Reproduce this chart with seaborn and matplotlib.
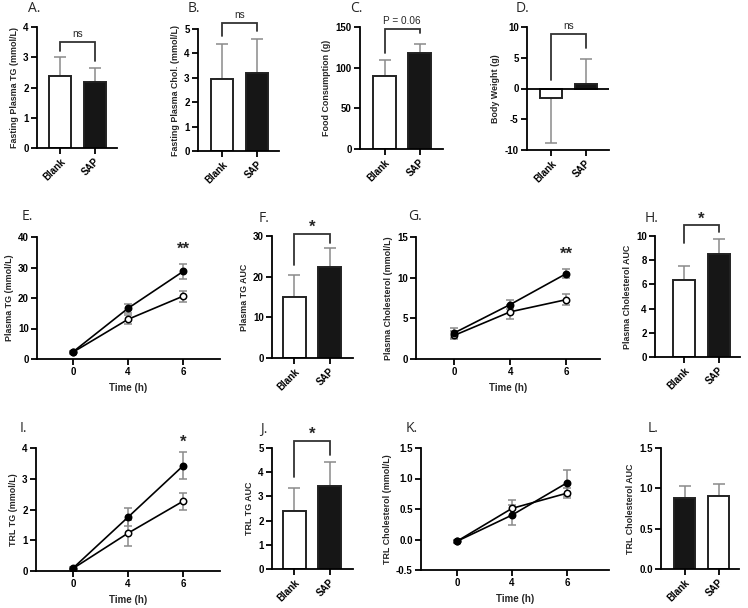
import numpy as np
import pandas as pd
import matplotlib
matplotlib.use("Agg")
import matplotlib.pyplot as plt
import seaborn as sns

sns.set_style("ticks")
plt.rcParams['font.family'] = ['Liberation Sans', 'DejaVu Sans']
plt.rcParams['axes.linewidth'] = 1.3
plt.rcParams['xtick.major.width'] = 1.3
plt.rcParams['ytick.major.width'] = 1.3
plt.rcParams['xtick.major.size'] = 4
plt.rcParams['ytick.major.size'] = 4
plt.rcParams['xtick.color'] = 'black'
plt.rcParams['ytick.color'] = 'black'
plt.rcParams['axes.edgecolor'] = 'black'

# ---------------- data ----------------
groups = ["Blank", "SAP"]
times = ["0", "4", "6"]

# bar panels: means and error (one-sided)
A_mean = [2.38, 2.17];   A_err = [0.63, 0.48]
B_mean = [2.96, 3.18];   B_err = [1.42, 1.42]
C_mean = [89.8, 117.5];  C_err = [19.7, 11.3]
D_mean = [-1.5, 0.68];   D_err = [7.4, 4.1]
F_mean = [14.9, 22.4];   F_err = [5.4, 4.6]
H_mean = [6.36, 8.5];    H_err = [1.2, 1.22]
J_mean = [2.38, 3.45];   J_err = [0.96, 0.98]
L_mean = [0.885, 0.905]; L_err = [0.145, 0.145]

# time-course panels
E_blank = [2.2, 13.0, 20.6];   E_blank_err = [0.4, 1.5, 1.8]
E_sap = [2.3, 16.6, 28.7];     E_sap_err = [0.4, 1.5, 2.6]
G_blank = [2.9, 5.8, 7.3];     G_blank_err = [0.5, 0.85, 0.7]
G_sap = [3.2, 6.7, 10.5];      G_sap_err = [0.6, 0.6, 0.55]
I_blank = [0.08, 1.23, 2.27];  I_blank_err = [0.03, 0.42, 0.28]
I_sap = [0.09, 1.75, 3.42];    I_sap_err = [0.03, 0.30, 0.44]
K_blank = [-0.03, 0.51, 0.76]; K_blank_err = [0.02, 0.13, 0.08]
K_sap = [-0.03, 0.40, 0.93];   K_sap_err = [0.02, 0.17, 0.21]

W, H = 748, 608
fig = plt.figure(figsize=(W / 100, H / 100), dpi=100)

def add_ax(l, r, t, b):
    return fig.add_axes([l / W, 1 - b / H, (r - l) / W, (b - t) / H])

TICKFONT = dict(fontsize=7, fontweight='bold')
YLABFONT = dict(fontsize=6.4, fontweight='bold')
XLABFONT = dict(fontsize=7, fontweight='bold')
ERRC = '#8a8a8a'
BLACK = '#161616'

def style(ax, ylabel, yticks, ylim, fmt=None):
    sns.despine(ax=ax)
    ax.set_ylim(*ylim)
    ax.set_yticks(yticks)
    if fmt:
        ax.set_yticklabels([fmt.format(v) for v in yticks], **TICKFONT)
    else:
        ax.set_yticklabels([str(v) for v in yticks], **TICKFONT)
    ax.set_ylabel(ylabel, labelpad=3, **YLABFONT)
    ax.tick_params(axis='both', pad=2)

def letter(x, y, s):
    fig.text(x / W, 1 - y / H, s, fontsize=10, family='Open Sans', va='center', ha='left')

def bracket(ax, y, legs, text, tsize=7.2, bold=False):
    ax.plot([0, 0, 1, 1], [legs[0], y, y, legs[1]], color='#333333', lw=1.3,
            clip_on=False, solid_joinstyle='miter')
    ax.annotate(text, xy=(0.5, y), xytext=(0, 2 if not bold else -1), textcoords='offset points',
                ha='center', va='bottom', fontsize=tsize,
                fontweight='bold' if bold else 'normal', annotation_clip=False)

def barpanel(ax, means, errs, colors, ylabel, yticks, ylim, xlim, fmt=None):
    sns.barplot(x=groups, y=means, hue=groups, palette=colors, legend=False,
                edgecolor='#222222', linewidth=1.4, width=0.64, ax=ax, zorder=2)
    for i, (m, e) in enumerate(zip(means, errs)):
        if m >= 0:
            yerr = [[0], [e]]
        else:
            yerr = [[e], [0]]
        ax.errorbar([i], [m], yerr=yerr, fmt='none', ecolor=ERRC, elinewidth=1.1,
                    capsize=4.5, capthick=1.1, zorder=1)
    ax.set_xlim(*xlim)
    style(ax, ylabel, yticks, ylim, fmt)
    ax.set_xticks([0, 1])
    ax.set_xticklabels(groups, rotation=45, ha='right', rotation_mode='anchor', **TICKFONT)
    ax.set_xlabel('')

def linepanel(ax, blank, blank_err, sap, sap_err, ylabel, yticks, ylim, xlim, fmt=None):
    df_b = pd.DataFrame({'time': times, 'val': blank})
    df_s = pd.DataFrame({'time': times, 'val': sap})
    x = np.arange(len(times))
    ax.errorbar(x, blank, yerr=blank_err, fmt='none', ecolor=ERRC, elinewidth=1.1,
                capsize=3, capthick=1.1, zorder=1)
    ax.errorbar(x, sap, yerr=sap_err, fmt='none', ecolor=ERRC, elinewidth=1.1,
                capsize=3, capthick=1.1, zorder=1)
    sns.pointplot(data=df_b, x='time', y='val', order=times, color='black',
                  markers='o', markersize=4.6, markerfacecolor='white', markeredgewidth=1.1,
                  linewidth=1.2, errorbar=None, ax=ax)
    sns.pointplot(data=df_s, x='time', y='val', order=times, color='black',
                  markers='o', markersize=4.6, markeredgewidth=1.1,
                  linewidth=1.2, errorbar=None, ax=ax)
    ax.set_xlim(*xlim)
    style(ax, ylabel, yticks, ylim, fmt)
    ax.set_xticks(x)
    ax.set_xticklabels(times, **TICKFONT)
    ax.set_xlabel('Time (h)', labelpad=4, **XLABFONT)

WB = ['white', BLACK]

# ---- row 1 ----
axA = add_ax(37, 117, 27, 148)
barpanel(axA, A_mean, A_err, WB, 'Fasting Plasma TG (mmol/L)', [0, 1, 2, 3, 4], (0, 4), (-0.67, 1.65))
bracket(axA, 3.5, [3.2, 2.87], 'ns')
letter(28, 9, 'A.')

axB = add_ax(198, 279, 29, 151)
barpanel(axB, B_mean, B_err, WB, 'Fasting Plasma Chol. (mmol/L)', [0, 1, 2, 3, 4, 5], (0, 5), (-0.69, 1.63))
bracket(axB, 5.25, [4.73, 4.9], 'ns')
letter(188, 8, 'B.')

axC = add_ax(360, 443, 27, 149)
barpanel(axC, C_mean, C_err, WB, 'Food Consumption (g)', [0, 50, 100, 150], (0, 150), (-0.7, 1.67))
bracket(axC, 147.6, [117.7, 143], 'P = 0.06')
letter(350, 8, 'C.')

axD = add_ax(527, 609, 27, 150)
barpanel(axD, D_mean, D_err, WB, 'Body Weight (g)', [-10, -5, 0, 5, 10], (-10, 10), (-0.7, 1.68))
axD.axhline(0, color='black', lw=1.3, zorder=3)
bracket(axD, 8.85, [1.4, 6.6], 'ns')
letter(516, 8, 'D.')

# ---- row 2 ----
axE = add_ax(37, 220, 237, 359)
linepanel(axE, E_blank, E_blank_err, E_sap, E_sap_err, 'Plasma TG (mmol/L)',
          [0, 10, 20, 30, 40], (0, 40), (-0.65, 2.67))
axE.text(2, 33.5, '**', ha='center', va='bottom', fontsize=12, fontweight='bold')
letter(22, 217, 'E.')

axF = add_ax(272, 353, 236, 358)
barpanel(axF, F_mean, F_err, WB, 'Plasma TG AUC', [0, 10, 20, 30], (0, 30), (-0.64, 1.67))
bracket(axF, 30.6, [22.8, 28.4], '*', tsize=12, bold=True)
letter(259, 218, 'F.')

axG = add_ax(416, 600, 237, 359)
linepanel(axG, G_blank, G_blank_err, G_sap, G_sap_err, 'Plasma Cholesterol (mmol/L)',
          [0, 5, 10, 15], (0, 15), (-0.68, 2.6))
axG.text(2, 12.0, '**', ha='center', va='bottom', fontsize=12, fontweight='bold')
letter(408, 216, 'G.')

axH = add_ax(655, 740, 236, 357)
barpanel(axH, H_mean, H_err, WB, 'Plasma Cholesterol AUC', [0, 2, 4, 6, 8, 10], (0, 10), (-0.84, 1.62))
bracket(axH, 10.9, [9.4, 10.3], '*', tsize=12, bold=True)
letter(645, 218, 'H.')

# ---- row 3 ----
axI = add_ax(36, 220, 448, 571)
linepanel(axI, I_blank, I_blank_err, I_sap, I_sap_err, 'TRL TG (mmol/L)',
          [0, 1, 2, 3, 4], (0, 4), (-0.67, 2.67))
axI.text(2, 3.95, '*', ha='center', va='bottom', fontsize=12, fontweight='bold')
letter(20, 428, 'I.')

axJ = add_ax(272, 353, 448, 569)
barpanel(axJ, J_mean, J_err, WB, 'TRL TG AUC', [0, 1, 2, 3, 4, 5], (0, 5), (-0.64, 1.67))
bracket(axJ, 5.3, [3.81, 4.71], '*', tsize=12, bold=True)
letter(260, 430, 'J.')

axK = add_ax(421, 609, 448, 570)
linepanel(axK, K_blank, K_blank_err, K_sap, K_sap_err, 'TRL Cholesterol (mmol/L)',
          [-0.5, 0.0, 0.5, 1.0, 1.5], (-0.5, 1.5), (-0.65, 2.76), fmt='{:.1f}')
letter(406, 428, 'K.')

axL = add_ax(661, 739, 448, 569)
barpanel(axL, L_mean, L_err, [BLACK, 'white'], 'TRL Cholesterol AUC',
         [0.0, 0.5, 1.0, 1.5], (0, 1.5), (-0.69, 1.6), fmt='{:.1f}')
letter(648, 428, 'L.')

fig.savefig('out.png', dpi=100)
